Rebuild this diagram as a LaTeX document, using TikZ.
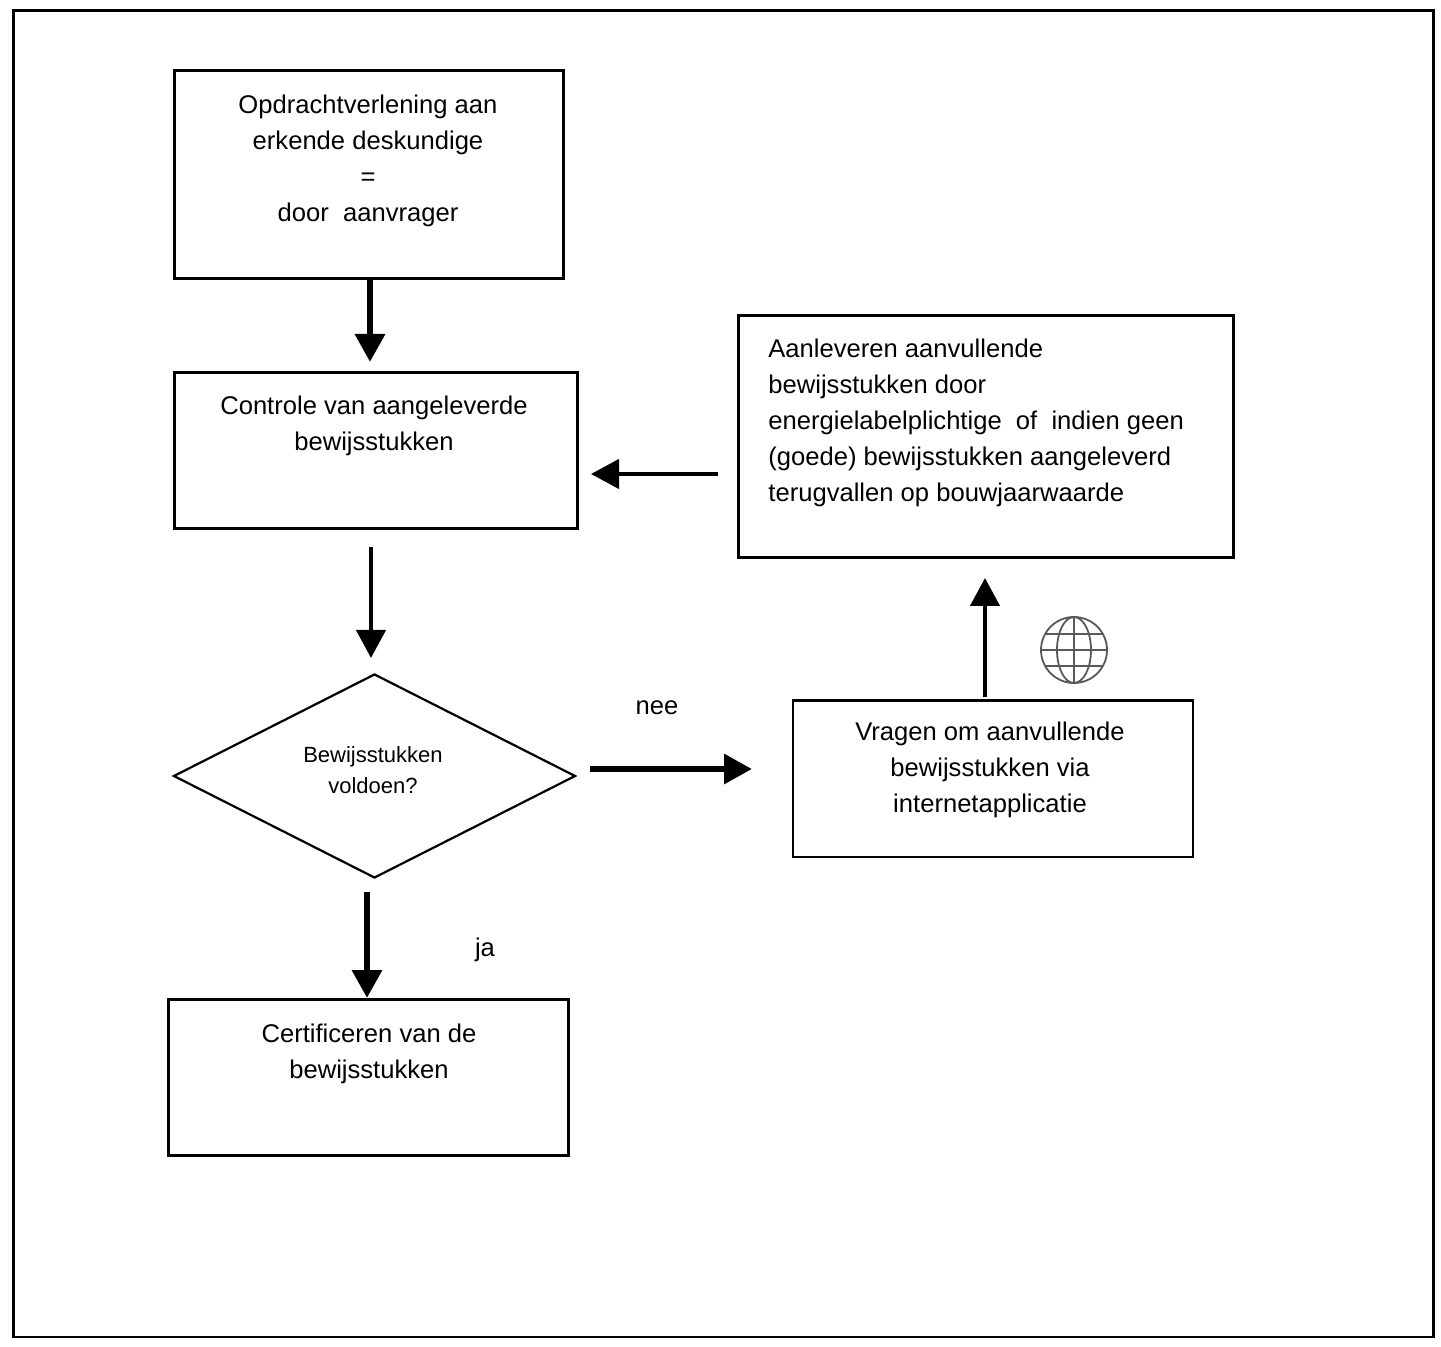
\documentclass[tikz,border=0pt]{standalone}
\usepackage{fontspec}
\setmainfont{Liberation Sans}
\usetikzlibrary{arrows.meta,shapes.geometric}
\tikzset{
  px/.style={x=0.5pt,y=-0.5pt},
  flowbox/.style={draw=black,line width=1.3pt,inner sep=0pt},
  lbl/.style={font=\fontsize{12.8}{18}\selectfont,align=center,inner sep=0pt,text=black},
  flowarrow/.style={draw=black,-{Triangle[length=14pt,width=14.5pt]}},
  thin arrow/.style={flowarrow,line width=2.2pt},
  thick arrow/.style={flowarrow,line width=3.2pt}
}
\begin{document}
\begin{tikzpicture}[px]
\useasboundingbox (0,0) rectangle (1441,1347);
\fill[white] (0,0) rectangle (1441,1347);
% outer frame
\node[draw=black,line width=1.4pt,minimum width=710pt,minimum height=663pt,inner sep=0pt,anchor=north west] (frame) at (12,9.5) {};
% process boxes
\node[flowbox,anchor=north west,minimum width=194.5pt,minimum height=104pt] (order) at (173,69.5) {};
\node[flowbox,anchor=north west,minimum width=201.5pt,minimum height=78pt] (check) at (173,371.5) {};
\node[flowbox,anchor=north west,minimum width=247.5pt,minimum height=121pt] (extra) at (737,314) {};
\node[flowbox,anchor=north west,minimum width=200pt,minimum height=78pt] (ask) at (791.5,699.5) {};
\node[flowbox,anchor=north west,minimum width=200pt,minimum height=78pt] (cert) at (167,998) {};
\node[draw=black,line width=1.1pt,diamond,aspect=2,inner sep=0pt,minimum width=201pt,minimum height=102pt] (dec) at (374.5,776) {};
% box texts
\node[lbl] (t1) at (368,160.5) {Opdrachtverlening aan\\erkende deskundige\\=\\door~~aanvrager};
\node[lbl] (t2) at (374,426) {Controle van aangeleverde\\bewijsstukken};
\node[lbl,align=left,anchor=north west] (t3) at (768,339) {Aanleveren aanvullende\\bewijsstukken door\\energielabelplichtige~~of~~indien geen\\(goede) bewijsstukken aangeleverd\\terugvallen op bouwjaarwaarde};
\node[lbl] (t4) at (990,770) {Vragen om aanvullende\\bewijsstukken via\\internetapplicatie};
\node[lbl,font=\fontsize{11}{15.5}\selectfont] (t5) at (373,770) {Bewijsstukken\\voldoen?};
\node[lbl] (t6) at (369,1054) {Certificeren van de\\bewijsstukken};
\node[lbl] (nee) at (657,708) {nee};
\node[lbl] (ja) at (485,950) {ja};
% free connector ends
\coordinate (a1s) at (370,278);
\coordinate (a1e) at (370,362);
\coordinate (a2s) at (371,547);
\coordinate (a2e) at (371,658);
\coordinate (a3s) at (367,892);
\coordinate (a3e) at (367,998);
\coordinate (a4s) at (590,769);
\coordinate (a4e) at (752,769);
\coordinate (a5s) at (985,697);
\coordinate (a5e) at (985,578);
\coordinate (a6s) at (718,474);
\coordinate (a6e) at (591,474);
\draw[thick arrow] (a1s) -- (a1e);
\draw[thin arrow] (a2s) -- (a2e);
\draw[thick arrow] (a3s) -- (a3e);
\draw[thick arrow] (a4s) -- (a4e);
\draw[thin arrow] (a5s) -- (a5e);
\draw[thin arrow] (a6s) -- (a6e);
% globe icon
\begin{scope}[shift={(1074,650)},draw=black!65,line width=0.9pt]
\draw (0,0) circle (16.5pt);
\draw (0,0) ellipse (8.5pt and 16.5pt);
\draw[line width=1.3pt] (0,-33) -- (0,33);
\draw (-33,0) -- (33,0);
\draw (-29,-16) -- (29,-16);
\draw (-29,16) -- (29,16);
\end{scope}
\end{tikzpicture}
\end{document}
